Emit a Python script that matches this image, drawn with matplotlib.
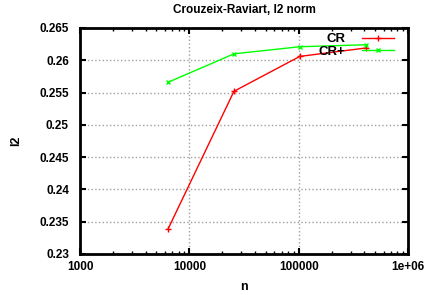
import matplotlib
matplotlib.use("Agg")
import matplotlib.pyplot as plt
from matplotlib.ticker import FixedLocator, LogLocator, NullFormatter, FixedFormatter

plt.rcParams['font.family'] = ['Liberation Sans', 'DejaVu Sans']
plt.rcParams['font.weight'] = 'bold'

n_vals = [6400, 25600, 102400, 409600]
cr = [0.2339, 0.2552, 0.2606, 0.2619]
cr_plus = [0.2566, 0.2610, 0.2621, 0.2624]
x_ticks = [1000, 10000, 100000, 1000000]
x_tick_labels = ["1000", "10000", "100000", "1e+06"]
y_ticks = [0.23, 0.235, 0.24, 0.245, 0.25, 0.255, 0.26, 0.265]
y_tick_labels = ["0.23", "0.235", "0.24", "0.245", "0.25", "0.255", "0.26", "0.265"]

fig = plt.figure(figsize=(4.25, 2.95), dpi=100)
ax = fig.add_axes([80/425, 41/295, 328/425, 226/295])

ax.plot(n_vals, cr, color='#ff0000', lw=1.0, marker='+', ms=4, mew=1.0, label='CR')
ax.plot(n_vals, cr_plus, color='#00ff00', lw=1.0, marker='x', ms=3.5, mew=1.0, label='CR+')

ax.set_xscale('log')
ax.set_xlim(1000, 1e6)
ax.set_ylim(0.23, 0.265)
ax.xaxis.set_major_locator(FixedLocator(x_ticks))
ax.xaxis.set_major_formatter(FixedFormatter(x_tick_labels))
ax.xaxis.set_minor_locator(LogLocator(base=10, subs=range(2, 10)))
ax.xaxis.set_minor_formatter(NullFormatter())
ax.yaxis.set_major_locator(FixedLocator(y_ticks))
ax.yaxis.set_major_formatter(FixedFormatter(y_tick_labels))

ax.tick_params(which='both', direction='in', top=True, right=True, labelsize=8.5)
ax.tick_params(axis='y', pad=8)
ax.tick_params(axis='x', pad=5)
ax.tick_params(which='major', length=4, width=1.5)
ax.tick_params(which='minor', length=2, width=1)
for lab in ax.get_xticklabels() + ax.get_yticklabels():
    lab.set_fontweight('bold')

ax.grid(True, which='major', color='#a0a0a0', linestyle=':', linewidth=1.0)
for s in ax.spines.values():
    s.set_linewidth(2.0)

ax.set_title('Crouzeix-Raviart, l2 norm', fontsize=8.5, fontweight='bold', pad=11)
ax.set_xlabel('n', fontsize=9, fontweight='bold', labelpad=6)
ax.set_ylabel('l2', fontsize=9, fontweight='bold', labelpad=12)

leg = ax.legend(loc='upper right', frameon=False, markerfirst=False, fontsize=9.5,
                numpoints=1, handlelength=2.4, bbox_to_anchor=(0.957, 0.977),
                borderaxespad=0.0, borderpad=0.0, labelspacing=0.0, handletextpad=1.3)
for t in leg.get_texts():
    t.set_fontweight('bold')

fig.savefig('out.png', dpi=100)
